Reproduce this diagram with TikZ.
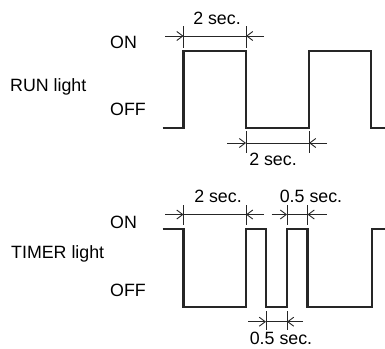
\documentclass[tikz,border=0pt]{standalone}
\usepackage{fontspec}
\setmainfont{Liberation Sans}
\usetikzlibrary{arrows.meta}
\begin{document}
\begin{tikzpicture}[x=1pt,y=-1pt,
  lbl/.style={inner sep=0pt,font=\fontsize{17.8}{20}\selectfont},
  wave/.style={line width=2.6pt,line join=miter,black!85},
  thin/.style={line width=0.9pt,black!85},
  dimarrow/.style={thin,-{Straight Barb[length=6pt,width=9pt,line width=0.9pt]}}]
\useasboundingbox (0,0) rectangle (385,348);
% labels
\node[lbl,anchor=base west] (run) at (10,91) {RUN light};
\node[lbl,anchor=base west] (timer) at (11,258) {TIMER light};
\node[lbl,anchor=west] (on1) at (110,42) {ON};
\node[lbl,anchor=west] (off1) at (110,109) {OFF};
\node[lbl,anchor=west] (on2) at (110,222) {ON};
\node[lbl,anchor=west] (off2) at (110,290) {OFF};
% RUN waveform
\draw[wave] (162.7,128) -- (183.5,128) -- (183.5,51) -- (246,51) -- (246,128)
  -- (309,128) -- (309,51) -- (371,51) -- (371,128) -- (386,128);
% TIMER waveform
\draw[wave] (162.7,229) -- (183.5,229) -- (183.5,307) -- (246,307) -- (246,229)
  -- (266,229) -- (266,307) -- (287,307) -- (287,229) -- (307.5,229)
  -- (307.5,307) -- (372,307) -- (372,229) -- (386,229);
% RUN top dimension
\coordinate (a1t) at (183.5,26); \coordinate (a1b) at (183.5,48);
\coordinate (a2t) at (246,26); \coordinate (a2b) at (246,48);
\coordinate (a1) at (183.5,36); \coordinate (a2) at (246,36);
\coordinate (a1o) at (165,36); \coordinate (a2o) at (264,36);
\draw[thin] (a1t) -- (a1b); \draw[thin] (a2t) -- (a2b);
\draw[thin] (a1) -- (a2);
\draw[dimarrow] (a1o) -- (a1); \draw[dimarrow] (a2o) -- (a2);
\node[lbl] (t1) at (217,18) {2 sec.};
% RUN bottom dimension
\coordinate (b1t) at (246,131); \coordinate (b1b) at (246,153);
\coordinate (b2t) at (309,131); \coordinate (b2b) at (309,153);
\coordinate (b1) at (246,143); \coordinate (b2) at (309,143);
\coordinate (b1o) at (227,143); \coordinate (b2o) at (327,143);
\draw[thin] (b1t) -- (b1b); \draw[thin] (b2t) -- (b2b);
\draw[thin] (b1) -- (b2);
\draw[dimarrow] (b1o) -- (b1); \draw[dimarrow] (b2o) -- (b2);
\node[lbl] (t2) at (273,159) {2 sec.};
% TIMER top-left dimension
\coordinate (c1t) at (183.5,205); \coordinate (c1b) at (183.5,225);
\coordinate (c2t) at (246,205); \coordinate (c2b) at (246,225);
\coordinate (c1) at (183.5,214.5); \coordinate (c2) at (246,214.5);
\coordinate (c1o) at (165,214.5); \coordinate (c2o) at (264,214.5);
\draw[thin] (c1t) -- (c1b); \draw[thin] (c2t) -- (c2b);
\draw[thin] (c1) -- (c2);
\draw[dimarrow] (c1o) -- (c1); \draw[dimarrow] (c2o) -- (c2);
\node[lbl] (t3) at (218,196) {2 sec.};
% TIMER top-right dimension
\coordinate (d1t) at (287,205); \coordinate (d1b) at (287,225);
\coordinate (d2t) at (307.5,205); \coordinate (d2b) at (307.5,225);
\coordinate (d1) at (287,214.5); \coordinate (d2) at (307.5,214.5);
\coordinate (d1o) at (271.5,214.5); \coordinate (d2o) at (326.5,214.5);
\draw[thin] (d1t) -- (d1b); \draw[thin] (d2t) -- (d2b);
\draw[thin] (d1) -- (d2);
\draw[dimarrow] (d1o) -- (d1); \draw[dimarrow] (d2o) -- (d2);
\node[lbl] (t4) at (311,196) {0.5 sec.};
% TIMER bottom dimension
\coordinate (e1t) at (266,311); \coordinate (e1b) at (266,330);
\coordinate (e2t) at (287,311); \coordinate (e2b) at (287,330);
\coordinate (e1) at (266,321.7); \coordinate (e2) at (287,321.7);
\coordinate (e1o) at (248,321.7); \coordinate (e2o) at (303,321.7);
\draw[thin] (e1t) -- (e1b); \draw[thin] (e2t) -- (e2b);
\draw[thin] (e1) -- (e2);
\draw[dimarrow] (e1o) -- (e1); \draw[dimarrow] (e2o) -- (e2);
\node[lbl] (t5) at (281,338.5) {0.5 sec.};
\end{tikzpicture}
\end{document}
